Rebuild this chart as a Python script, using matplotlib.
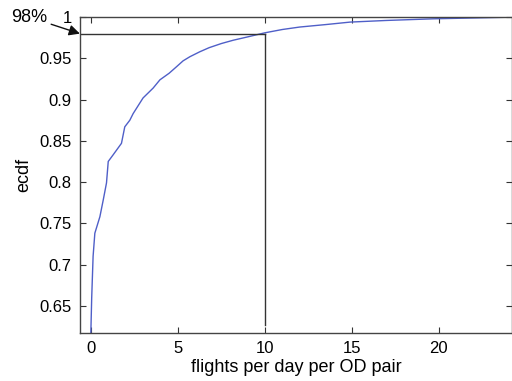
import matplotlib
matplotlib.use("Agg")
import matplotlib.pyplot as plt

plt.rcParams['font.family'] = ['Liberation Sans', 'DejaVu Sans']

# ecdf
flights = [0.0, 0.05, 0.13, 0.23, 0.52, 0.71, 0.9, 1.0, 1.28, 1.76, 1.95, 2.24, 2.43,
           3.0, 3.58, 3.97, 4.5, 4.93, 5.3, 5.69, 6.26, 6.8, 7.5, 8.18, 9.0, 10.0, 11.0,
           12.0, 13.5, 14.9, 17.0, 19.7, 22.0, 24.2]
ecdf = [0.617, 0.66, 0.71, 0.738, 0.758, 0.778, 0.799, 0.825, 0.833, 0.847, 0.867, 0.875,
        0.883, 0.902, 0.914, 0.924, 0.932, 0.94, 0.947, 0.952, 0.958, 0.963, 0.968, 0.972,
        0.976, 0.981, 0.985, 0.988, 0.991, 0.994, 0.996, 0.998, 0.999, 1.0]

ref_x = 10
ref_y = 0.98
ref_bottom = 0.627

fig = plt.figure(figsize=(5.12, 3.81), dpi=100)
ax = fig.add_axes([0.156, 0.126, 0.844, 0.829])

ax.plot(flights, ecdf, color='#4f5fc8', linewidth=1.0)
ax.plot([-1, ref_x], [ref_y, ref_y], color='#333333', linewidth=1.0)
ax.plot([ref_x, ref_x], [ref_bottom, ref_y], color='#333333', linewidth=1.0)

ax.set_xlim(-0.63, 24.2)
ax.set_ylim(0.617, 1.0)
ax.set_xticks([0, 5, 10, 15, 20])
ax.set_yticks([0.65, 0.7, 0.75, 0.8, 0.85, 0.9, 0.95, 1])
ax.set_yticklabels(['0.65', '0.7', '0.75', '0.8', '0.85', '0.9', '0.95', '1'])
ax.tick_params(direction='in', top=True, right=True, labelsize=12, length=4,
               color='#333333', pad=6)
for s in ax.spines.values():
    s.set_color('#444444')
    s.set_linewidth(1.0)

ax.set_xlabel('flights per day per OD pair', fontsize=13, labelpad=2)
ax.set_ylabel('ecdf', fontsize=13, labelpad=5)

ax.annotate('98%', xy=(0, ref_y), xycoords=('axes fraction', 'data'),
            xytext=(29, 364), textcoords='figure pixels', fontsize=13,
            ha='center', va='center', annotation_clip=False,
            arrowprops=dict(arrowstyle='-|>', color='#111111', lw=1.0,
                            mutation_scale=16, shrinkA=1, shrinkB=0))

fig.savefig('out.png', dpi=100)
